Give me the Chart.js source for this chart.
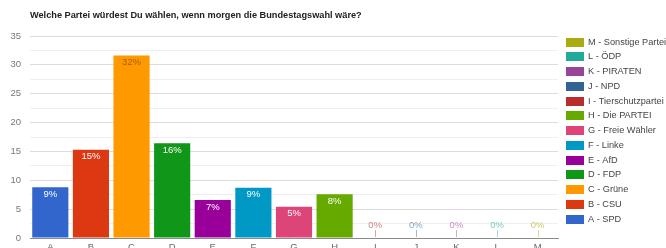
<!DOCTYPE html>
<html>
<head>
<meta charset="utf-8">
<script src="https://cdn.jsdelivr.net/npm/chart.js@4/dist/chart.umd.min.js"></script>
<style>
html,body{margin:0;padding:0;background:#fff;overflow:hidden;}
#wrap{width:666px;height:256px;position:relative;}
</style>
</head>
<body>
<div id="wrap"><canvas id="c" width="666" height="256"></canvas></div>
<script>
const titleText = 'Welche Partei würdest Du wählen, wenn morgen die Bundestagswahl wäre?';
const categories = ['A','B','C','D','E','F','G','H','I','J','K','L','M'];
const parties = ['A - SPD','B - CSU','C - Grüne','D - FDP','E - AfD','F - Linke','G - Freie Wähler','H - Die PARTEI','I - Tierschutzpartei','J - NPD','K - PIRATEN','L - ÖDP','M - Sonstige Partei'];
const values = [8.8, 15.3, 31.6, 16.4, 6.6, 8.7, 5.4, 7.6, 0, 0, 0, 0, 0];
const percentLabels = ['9%','15%','32%','16%','7%','9%','5%','8%','0%','0%','0%','0%','0%'];
const colors = ['#3366cc','#dc3912','#ff9900','#109618','#990099','#0099c6','#dd4477','#66aa00','#b82e2e','#316395','#994499','#22aa99','#aaaa11'];
const yMin = 0, yMax = 35, yStep = 2.5, yLabelStep = 5;

const FONT = '"Liberation Sans", Arial, sans-serif';

function hexA(hex, a){
  const n = parseInt(hex.slice(1),16);
  return `rgba(${(n>>16)&255},${(n>>8)&255},${n&255},${a})`;
}

const overlay = {
  id: 'overlay',
  afterDatasetsDraw(chart){
    const ctx = chart.ctx;
    const meta = chart.getDatasetMeta(0);
    const yScale = chart.scales.y;
    ctx.save();
    ctx.font = '9.5px ' + FONT;
    ctx.textAlign = 'center';
    ctx.textBaseline = 'middle';
    meta.data.forEach((bar, i) => {
      const v = values[i];
      if (v > 0) {
        ctx.fillStyle = (i === 2) ? '#a85f00' : '#ffffff';
        ctx.fillText(percentLabels[i], bar.x, bar.y + 7);
      } else {
        const base = yScale.getPixelForValue(0);
        ctx.strokeStyle = hexA(colors[i], 0.45);
        ctx.lineWidth = 1;
        ctx.beginPath();
        ctx.moveTo(Math.round(bar.x)+0.5, base - 1);
        ctx.lineTo(Math.round(bar.x)+0.5, base - 8);
        ctx.stroke();
        ctx.fillStyle = hexA(colors[i], 0.6);
        ctx.fillText(percentLabels[i], bar.x, base - 13);
      }
    });
    ctx.restore();
  },
  afterDraw(chart){
    const ctx = chart.ctx;
    ctx.save();
    ctx.font = 'bold 9.2px ' + FONT;
    ctx.fillStyle = '#222';
    ctx.textAlign = 'left';
    ctx.textBaseline = 'middle';
    ctx.fillText(titleText, 30, 15);
    ctx.font = '9.2px ' + FONT;
    for (let k = 0; k < parties.length; k++) {
      const i = parties.length - 1 - k;
      const y = 42 + k * 14.75;
      ctx.fillStyle = colors[i];
      ctx.fillRect(566, Math.round(y - 4.5), 18, 9);
      ctx.fillStyle = '#444';
      ctx.fillText(parties[i], 588, y);
    }
    ctx.restore();
  }
};

new Chart(document.getElementById('c'), {
  type: 'bar',
  data: {
    labels: categories,
    datasets: [{
      data: values,
      backgroundColor: colors,
      borderWidth: 0,
      categoryPercentage: 1,
      barPercentage: 0.89
    }]
  },
  options: {
    responsive: false,
    animation: false,
    events: [],
    layout: { padding: { top: 36, right: 108, bottom: 0, left: 0 } },
    plugins: { legend: { display: false }, title: { display: false }, tooltip: { enabled: false } },
    scales: {
      x: {
        grid: { display: false, drawTicks: false },
        border: { display: true, color: '#8a8a8a', width: 1 },
        ticks: { padding: 4, color: '#666', font: { family: FONT, size: 9.5 } },
        afterFit(s){ s.height = 18; }
      },
      y: {
        min: yMin, max: yMax,
        border: { display: false },
        grid: {
          drawTicks: false,
          color: (c) => (c.tick && c.tick.value % yLabelStep === 0) ? '#dcdcdc' : '#efefef'
        },
        ticks: {
          stepSize: yStep,
          padding: 9,
          color: '#777',
          font: { family: FONT, size: 9.5 },
          callback: (v) => (v % yLabelStep === 0) ? String(v) : ''
        },
        afterFit(s){ s.width = 30; }
      }
    }
  },
  plugins: [overlay]
});
</script>
</body>
</html>
